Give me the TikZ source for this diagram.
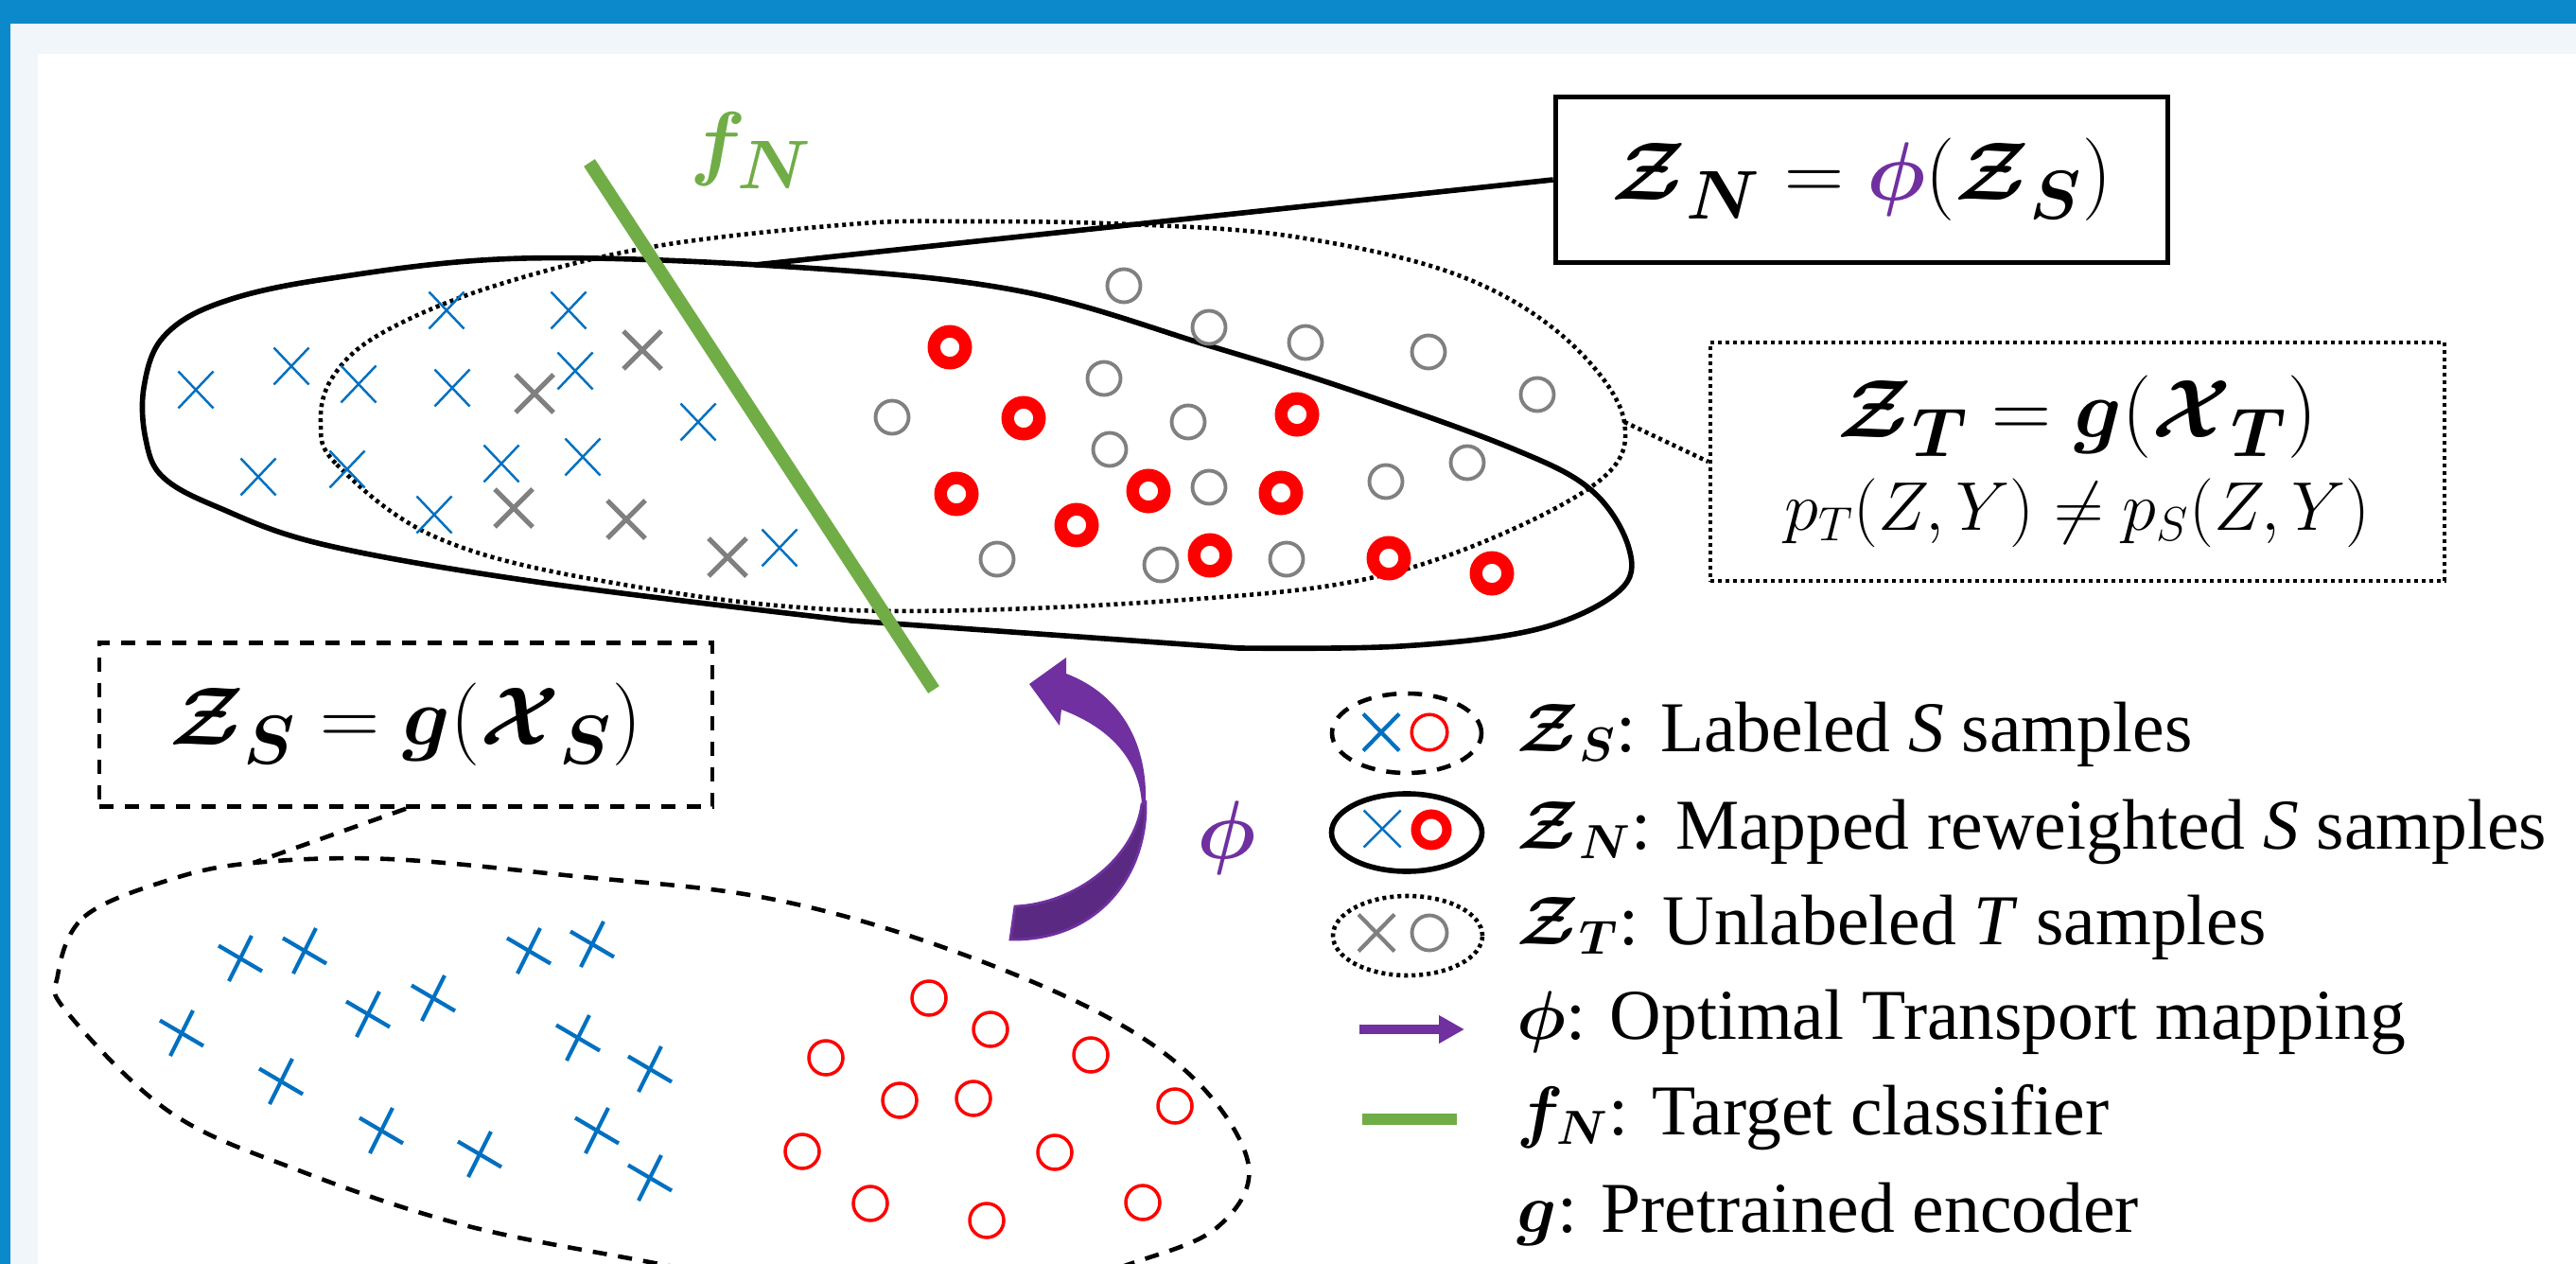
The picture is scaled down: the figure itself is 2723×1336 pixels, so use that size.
\documentclass[tikz,border=0pt]{standalone}
\usepackage{amsmath,bm}
\usepackage{fontspec}
\setmainfont{Liberation Serif}
\usetikzlibrary{arrows.meta}
\definecolor{frameblue}{RGB}{11,137,202}
\definecolor{framelight}{RGB}{240,246,250}
\definecolor{xblue}{RGB}{0,112,192}
\definecolor{fgreen}{RGB}{112,173,71}
\definecolor{phipurple}{RGB}{112,48,160}
\definecolor{phidark}{RGB}{90,42,130}

\begin{document}
\begin{tikzpicture}[x=0.1mm,y=-0.1mm,
  solidset/.style={black,line width=1.6pt},
  dashset/.style={black,line width=1.3pt,dash pattern=on 1.5mm off 1.2mm},
  dotset/.style={black,line width=1.3pt,dash pattern=on 0.4mm off 0.4mm},
  xthin/.style={xblue,line width=0.7pt},
  xgray/.style={gray,line width=1.5pt},
  xbig/.style={xblue,line width=1.2pt},
  ogray/.style={gray,line width=1.1pt},
  oring/.style={red,line width=3.8pt},
  othin/.style={red,line width=1pt},
  mathbig/.style={font=\fontsize{28}{30}\selectfont},
  mathlab/.style={font=\fontsize{32}{34}\selectfont,inner sep=0pt},
  legtext/.style={anchor=base west,inner sep=0pt,font=\fontsize{21.5}{26}\selectfont}]
\useasboundingbox (0,0) rectangle (2723,1336);
\fill[frameblue] (0,0) rectangle (2723,1336);
\fill[framelight] (11,25) rectangle (2723,1336);
\fill[white] (40,57) rectangle (2723,1336);

\begin{scope}
\clip (40,57) rectangle (2723,1336);
\draw[solidset] plot[smooth,tension=0.6] coordinates {(1309,685) (1481,683) (1625,665) (1711,625) (1722,580) (1682,518) (1596,473) (1424,411) (1280,366) (1080,308) (850,283) (554,273) (344,295) (230,321) (172,357) (152,410) (154,464) (172,504) (230,536) (344,576) (574,616) (900,656)} -- cycle;
\draw[dotset] plot[smooth cycle,tension=0.6] coordinates {(339,446) (356,491) (459,567) (631,613) (900,645) (1252,634) (1481,603) (1677,518) (1717,446) (1654,357) (1539,290) (1367,250) (1194,237) (1022,234) (900,237) (689,261) (517,304) (402,353) (352,398)};
\draw[dashset] plot[smooth cycle,tension=0.6] coordinates {(61,1031) (89,969) (179,930) (268,912) (411,908) (607,926) (804,948) (982,996) (1161,1070) (1267,1145) (1320,1233) (1287,1297) (1203,1333) (1100,1360) (900,1375) (697,1336) (491,1295) (313,1236) (179,1175) (71,1070)};
\end{scope}
\coordinate (znblob) at (798,280);
\coordinate (ztblob) at (1717,446);
\coordinate (zsblob) at (268,912);

\foreach \x/\y in {472/328,601/328,308/387,207/412,379/406,478/410,608/392,738/446,273/504,367/496,530/490,616/483,459/544,824/579}
  \draw[xthin] (\x,\y) +(-18.5,-19.5) -- +(18.5,19.5) +(-18.5,19.5) -- +(18.5,-19.5);
\foreach \x/\y in {679/370,565/416,543/537,662/549,769/589}
  \draw[xgray] (\x,\y) +(-20,-20) -- +(20,20) +(-20,20) -- +(20,-20);
\foreach \x/\y in {1188/302,1278/346,1380/362,1510/372,1167/400,1625/417,943/441,1256/446,1173/475,1551/489,1465/509,1278/515,1054/591,1227/597,1360/591}
  \draw[ogray] (\x,\y) circle (1.75mm);
\foreach \x/\y in {1004/367,1082/442,1371/438,1011/522,1214/519,1354/521,1138/555,1279/587,1468/590,1577/606}
  \draw[oring] (\x,\y) circle (1.68mm);

\foreach \x/\y in {254/1013,322/1005,559/1005,626/998,192/1092,389/1072,458/1055,611/1097,687/1130,297/1143,403/1195,507/1220,631/1195,687/1245}
  \draw[xbig] (\x,\y) +(12,-24) -- +(-12,24) +(-23,-13.5) -- +(23,13.5);
\foreach \x/\y in {982/1055,1047/1088,873/1118,1153/1115,951/1163,1029/1161,1242/1169,848/1217,1115/1218,920/1272,1043/1290,1208/1271}
  \draw[othin] (\x,\y) circle (1.8mm);

\draw[fgreen,line width=1.4mm] (623,172) -- (987,729);
\node[text=fgreen,mathlab,anchor=base west] (fnlab) at (729,180) {$\bm{f_N}$};

\fill[phidark,draw=phipurple,line width=0.8pt] (1068,993) .. controls (1160,995) and (1213,925) .. (1211,848) -- (1207,850) .. controls (1200,905) and (1140,955) .. (1073,958) -- cycle;
\fill[phipurple] (1211,848) .. controls (1213,780) and (1180,732) .. (1127,712) -- (1127,695) -- (1088,723) -- (1120,767) -- (1122,750) .. controls (1170,768) and (1204,800) .. (1207,850) -- cycle;
\node[text=phipurple,mathlab] (philab) at (1297,886) {$\bm{\phi}$};

\node[draw,solidset,mathbig,minimum width=64.7mm,minimum height=17.5mm,inner sep=0pt] (znbox) at (1968,190)
  {$\bm{\mathcal{Z}_N} = {\color{phipurple}\bm{\phi}}(\bm{\mathcal{Z}_S})$};
\node[draw,dotset,font=\fontsize{29}{28}\selectfont,align=center,minimum width=77.6mm,minimum height=25.2mm,inner sep=0pt] (ztbox) at (2196,488)
  {$\bm{\mathcal{Z}_T} = \bm{g}(\bm{\mathcal{X}_T})$\\{\fontsize{22.5}{27}\selectfont $p_T(Z,Y) \neq p_S(Z,Y)$}};
\node[draw,dashset,font=\fontsize{29}{30}\selectfont,minimum width=64.8mm,minimum height=17.3mm,inner sep=0pt] (zsbox) at (429,766)
  {$\bm{\mathcal{Z}_S} = \bm{g}(\bm{\mathcal{X}_S})$};
\draw[solidset] (znbox.west) -- (znblob);
\draw[dotset] (ztblob) -- (ztbox.west);
\draw[dashset] (zsbox.south) -- (zsblob);

\draw[dashset] (1487,775) ellipse [x radius=7.9mm,y radius=4.2mm];
\draw[xblue,line width=1.2pt] (1460,774) +(-19,-19.5) -- +(19,19.5) +(-19,19.5) -- +(19,-19.5);
\draw[othin] (1511,774) circle (1.88mm);
\draw[solidset] (1487,880) ellipse [x radius=7.95mm,y radius=4.1mm];
\draw[xthin] (1461,876) +(-19.5,-19.5) -- +(19.5,19.5) +(-19.5,19.5) -- +(19.5,-19.5);
\draw[red,line width=2.85pt] (1513,877) circle (1.65mm);
\draw[dotset] (1488,989) ellipse [x radius=7.9mm,y radius=4.2mm];
\draw[gray,line width=1.2pt] (1455,986) +(-19,-19.5) -- +(19,19.5) +(-19,19.5) -- +(19,-19.5);
\draw[ogray] (1511,986) circle (1.85mm);
\draw[phipurple,line width=1mm,-{Triangle[length=2.7mm,width=2.8mm]}] (1437,1088) -- (1548,1088);
\draw[fgreen,line width=1.2mm] (1440,1183) -- (1540,1183);

\node[legtext] (legzs) at (1603,794) {$\bm{\mathcal{Z}_S}$: Labeled \textit{S} samples};
\node[legtext] (legzn) at (1603,897) {$\bm{\mathcal{Z}_N}$: Mapped reweighted \textit{S} samples};
\node[legtext] (legzt) at (1603,998) {$\bm{\mathcal{Z}_T}$: Unlabeled \textit{T} samples};
\node[legtext] (legphi) at (1603,1098) {$\bm{\phi}$: Optimal Transport mapping};
\node[legtext] (legfn) at (1603,1199) {$\bm{f_N}$: Target classifier};
\node[legtext] (legg) at (1603,1302) {$\bm{g}$: Pretrained encoder};
\end{tikzpicture}
\end{document}
